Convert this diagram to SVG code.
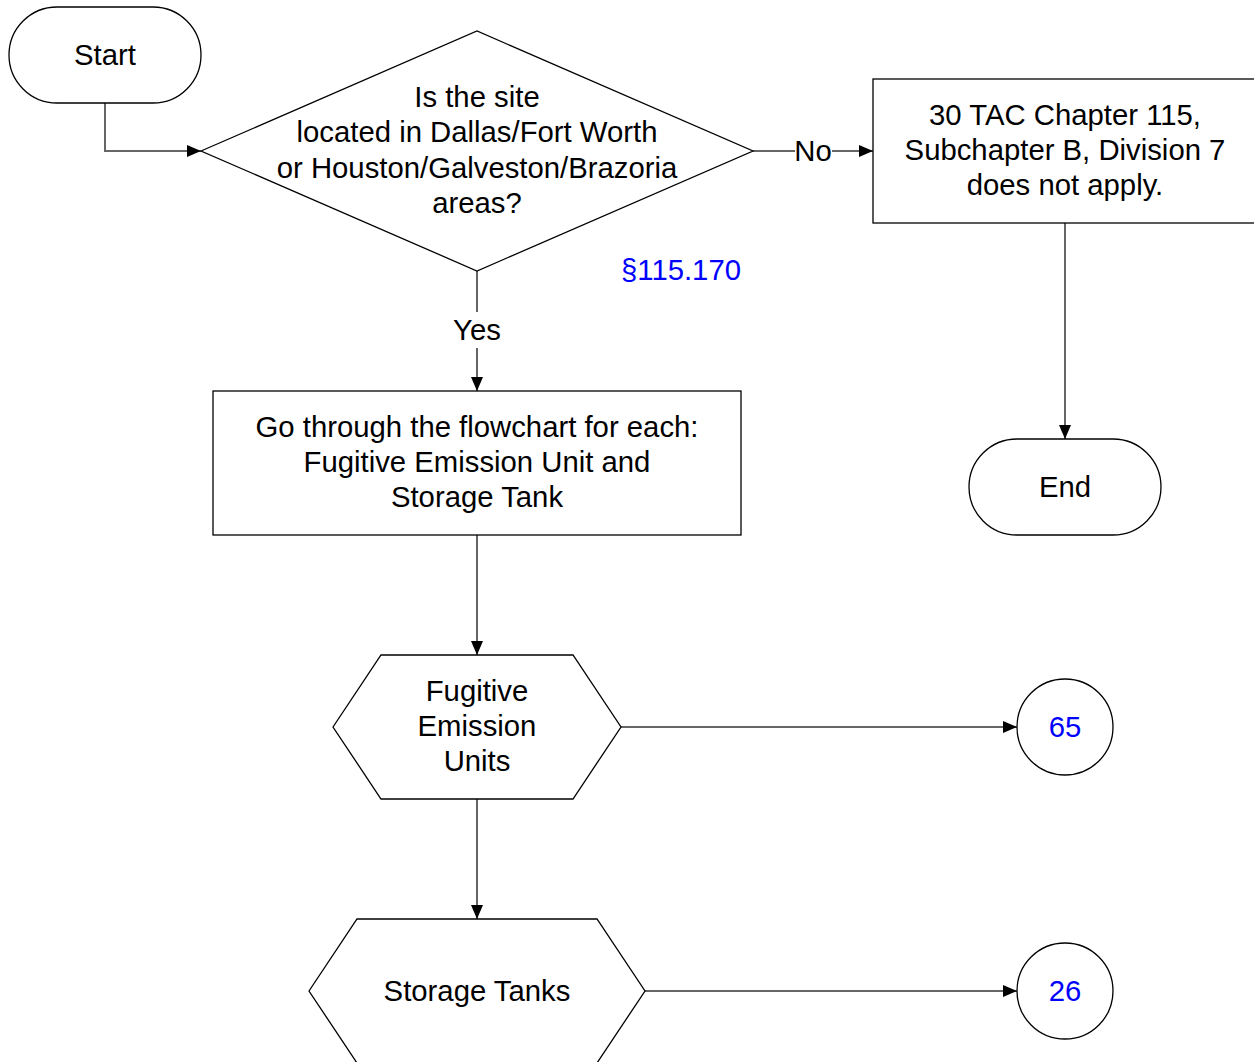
<svg xmlns="http://www.w3.org/2000/svg" width="1254" height="1062" viewBox="0 0 1254 1062">
<style>
.s{fill:#fff;stroke:#000;stroke-width:1.3}
.c{fill:none;stroke:#666;stroke-width:2}
.t{font-family:"Liberation Sans",Arial,sans-serif;font-size:29.3px;fill:#000;text-anchor:middle}
.b{fill:#0000ff}
</style>
<defs>
<marker id="a" markerWidth="14" markerHeight="12" refX="14" refY="6" orient="auto" markerUnits="userSpaceOnUse">
<path d="M0,0 L14,6 L0,12 Z" fill="#000"/>
</marker>
</defs>
<rect width="1254" height="1062" fill="#fff"/>
<g id="connectors">
<path class="c" d="M105,103 V151 H201" marker-end="url(#a)"/>
<path class="c" d="M753,151 H795 M832,151 H873" marker-end="url(#a)"/>
<path class="c" d="M1065,223 V439" marker-end="url(#a)"/>
<path class="c" d="M477,271 V312 M477,348 V391" marker-end="url(#a)"/>
<path class="c" d="M477,535 V655" marker-end="url(#a)"/>
<path class="c" d="M621,727 H1017" marker-end="url(#a)"/>
<path class="c" d="M477,799 V919" marker-end="url(#a)"/>
<path class="c" d="M645,991 H1017" marker-end="url(#a)"/>
<text class="t" x="813" y="161">No</text>
<text class="t" x="477" y="340">Yes</text>
</g>
<g id="start">
<rect class="s" x="9" y="7" width="192" height="96" rx="48"/>
<text class="t" x="105" y="65">Start</text>
</g>
<g id="decision">
<polygon class="s" points="201,151 477,31 753,151 477,271"/>
<text class="t" x="477" y="107">Is the site</text>
<text class="t" x="477" y="142">located in Dallas/Fort Worth</text>
<text class="t" x="477" y="178">or Houston/Galveston/Brazoria</text>
<text class="t" x="477" y="213">areas?</text>
</g>
<g id="ref">
<text class="t b" x="681" y="280">§115.170</text>
</g>
<g id="notapply">
<rect class="s" x="873" y="79" width="384" height="144"/>
<text class="t" x="1065" y="125">30 TAC Chapter 115,</text>
<text class="t" x="1065" y="160">Subchapter B, Division 7</text>
<text class="t" x="1065" y="195">does not apply.</text>
</g>
<g id="end">
<rect class="s" x="969" y="439" width="192" height="96" rx="48"/>
<text class="t" x="1065" y="497">End</text>
</g>
<g id="goflow">
<rect class="s" x="213" y="391" width="528" height="144"/>
<text class="t" x="477" y="437">Go through the flowchart for each:</text>
<text class="t" x="477" y="472">Fugitive Emission Unit and</text>
<text class="t" x="477" y="507">Storage Tank</text>
</g>
<g id="fugitive">
<polygon class="s" points="333,727 381,655 573,655 621,727 573,799 381,799"/>
<text class="t" x="477" y="701">Fugitive</text>
<text class="t" x="477" y="736">Emission</text>
<text class="t" x="477" y="771">Units</text>
</g>
<g id="c65">
<circle class="s" cx="1065" cy="727" r="48"/>
<text class="t b" x="1065" y="737">65</text>
</g>
<g id="storage">
<polygon class="s" points="309,991 357,919 597,919 645,991 597,1063 357,1063"/>
<text class="t" x="477" y="1001">Storage Tanks</text>
</g>
<g id="c26">
<circle class="s" cx="1065" cy="991" r="48"/>
<text class="t b" x="1065" y="1001">26</text>
</g>
</svg>
